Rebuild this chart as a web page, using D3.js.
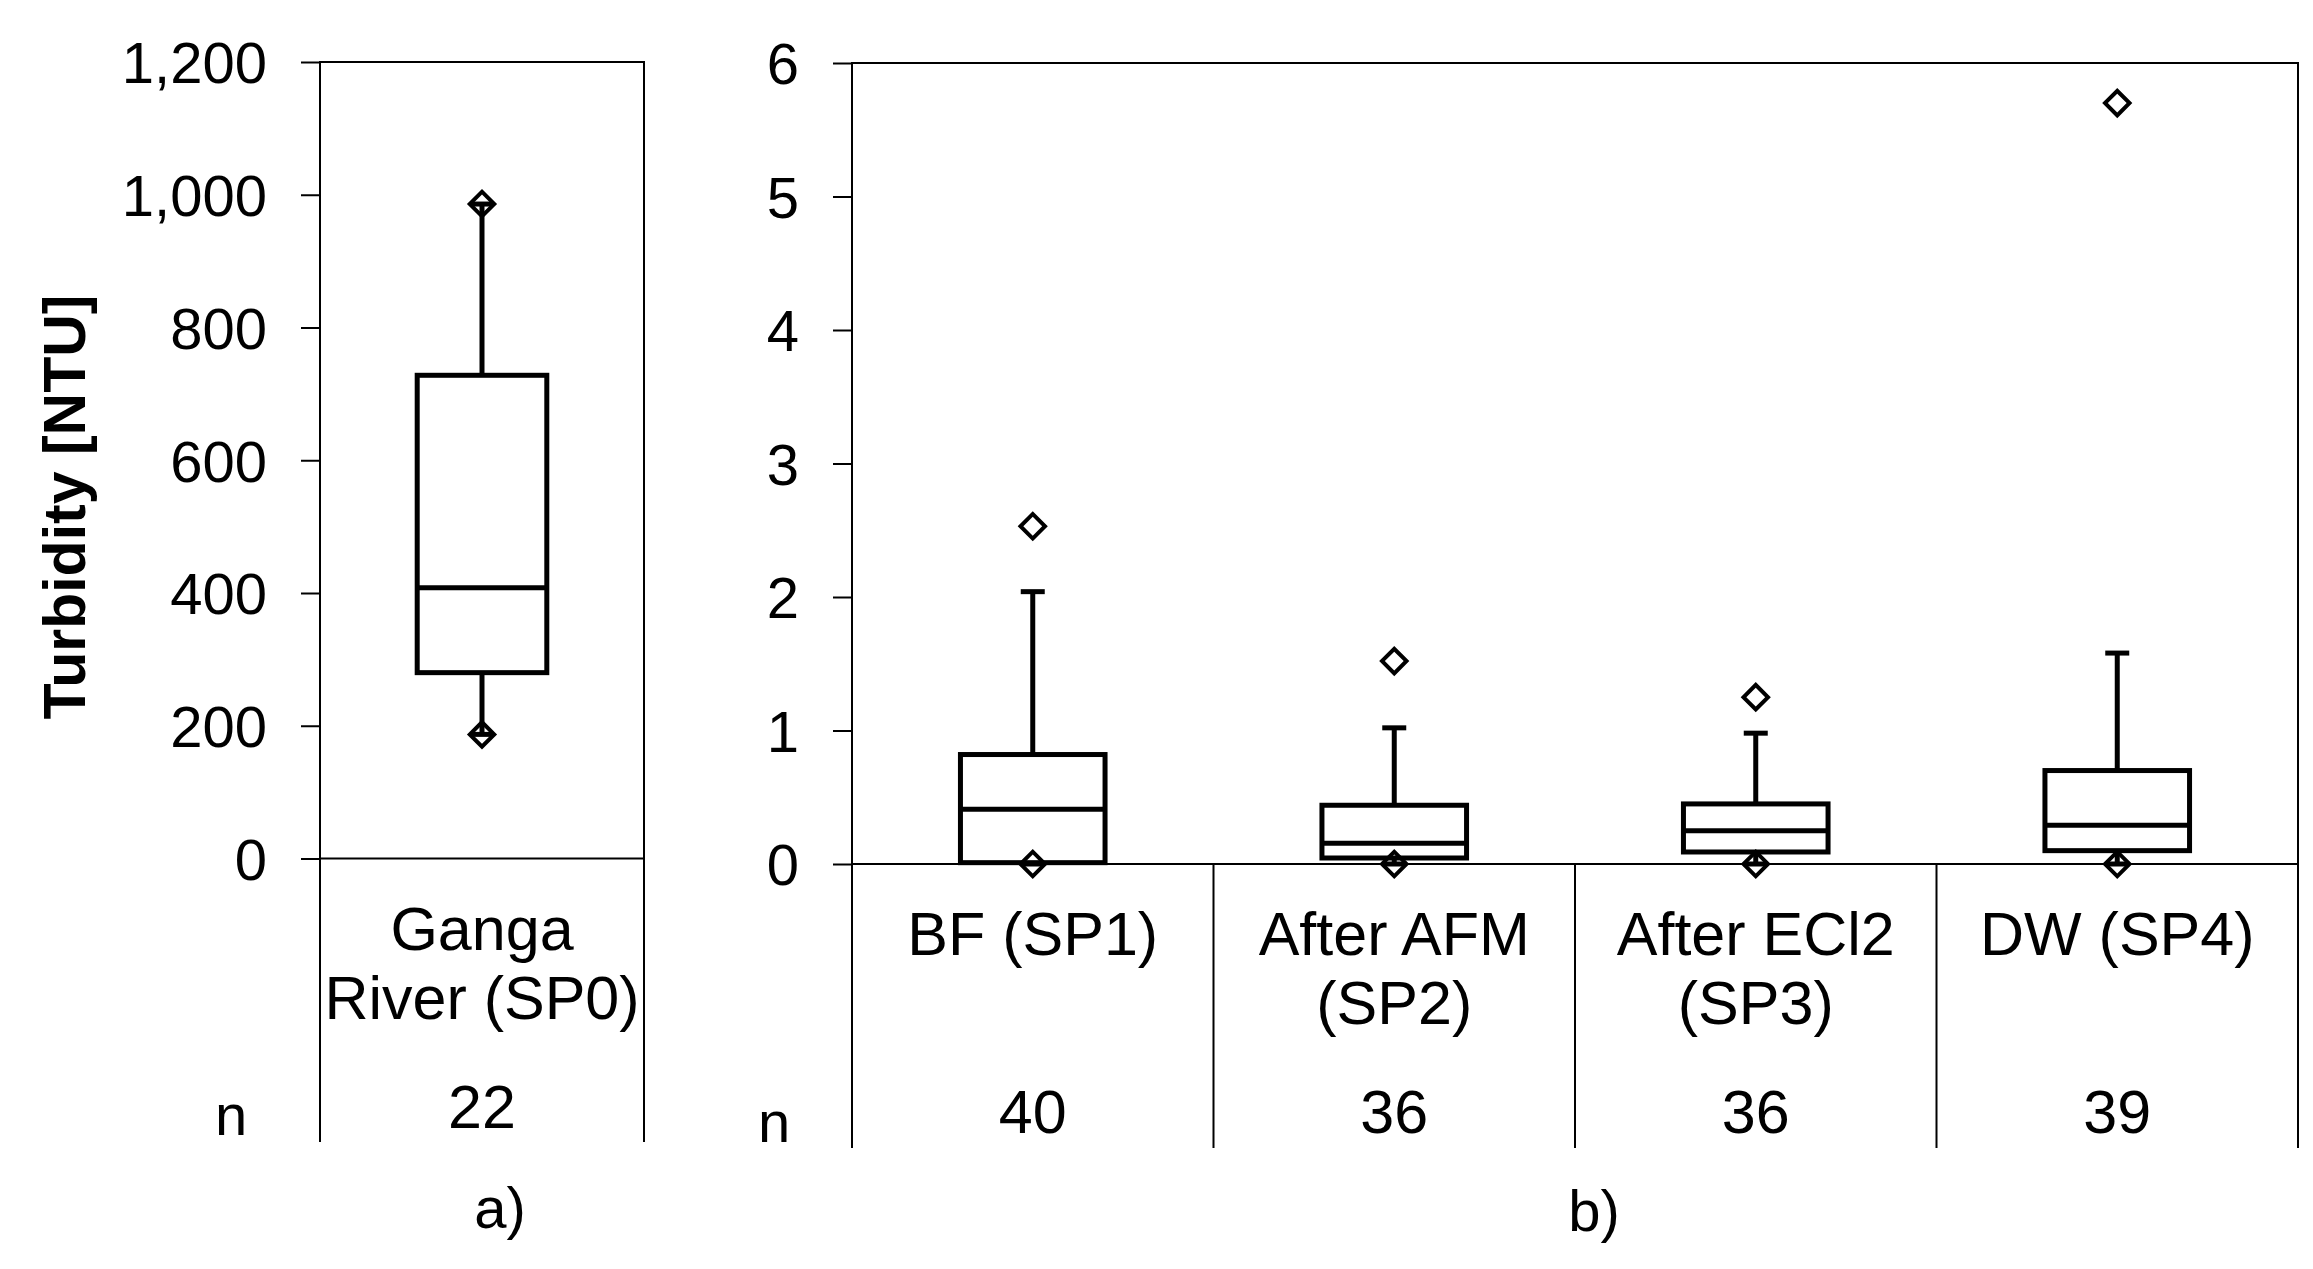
<!DOCTYPE html>
<html>
<head>
<meta charset="utf-8">
<script src="https://cdn.jsdelivr.net/npm/d3@7"></script>
<style>
    body { margin: 0; background: #fff; }
    text { font-family: "Liberation Sans", Arial, sans-serif; fill: #000; }
</style>
</head>
<body>
<div id="chart"></div>
<script>
// Data - panel a) river
const riverSites = ['Ganga River (SP0)'];
const riverLabels = [['Ganga', 'River (SP0)']];
const riverN = [22];
const riverMin = [187];
const riverWhiskerLow = [187];
const riverQ1 = [280];
const riverMedian = [408];
const riverQ3 = [728];
const riverWhiskerHigh = [986];
const riverMax = [986];
const riverTicks = [0, 200, 400, 600, 800, 1000, 1200];

// Data - panel b) treatment plant
const plantSites = ['BF (SP1)', 'After AFM (SP2)', 'After ECl2 (SP3)', 'DW (SP4)'];
const plantLabels = [['BF (SP1)'], ['After AFM', '(SP2)'], ['After ECl2', '(SP3)'], ['DW (SP4)']];
const plantN = [40, 36, 36, 39];
const plantMin = [0, 0, 0, 0];
const plantWhiskerLow = [0, 0, 0, 0];
const plantQ1 = [0.01, 0.045, 0.09, 0.10];
const plantMedian = [0.41, 0.155, 0.25, 0.29];
const plantQ3 = [0.82, 0.44, 0.45, 0.70];
const plantWhiskerHigh = [2.04, 1.02, 0.98, 1.58];
const plantMax = [2.53, 1.52, 1.25, 5.70];
const plantTicks = [0, 1, 2, 3, 4, 5, 6];

// Dimensions
const dimensions = {
    width: 2313,
    height: 1269,
    fontSize: 58,
    labelSize: 61,
    tickSize: 19,
    tickPadding: 34,
    lineWidth: 2,
    boxWidth: 5,
    capWidth: 24,
    diamondSize: 300,
};

const svg = d3.select('#chart')
    .append('svg')
    .attr('width', dimensions.width)
    .attr('height', dimensions.height);

// Y axis title
svg.append('text')
    .attr('transform', 'translate(85, 507) rotate(-90)')
    .attr('text-anchor', 'middle')
    .style('font-size', '59px')
    .style('font-weight', 'bold')
    .text('Turbidity [NTU]');

function drawPanel(p) {
    const rows = p.sites.map((s, i) => ({
        site: s,
        label: p.labels[i],
        n: p.n[i],
        min: p.min[i],
        lo: p.whiskerLow[i],
        q1: p.q1[i],
        med: p.median[i],
        q3: p.q3[i],
        hi: p.whiskerHigh[i],
        max: p.max[i],
    }));

    const xScale = d3.scaleBand()
        .domain(p.sites)
        .range([p.left, p.right])
        .padding(0);

    const yScale = d3.scaleLinear()
        .domain(d3.extent(p.ticks))
        .range([p.zero, p.top]);

    const g = svg.append('g');
    const bw = xScale.bandwidth();
    const cx = d => xScale(d.site) + bw / 2;

    // Axis
    const yAxis = d3.axisLeft(yScale)
        .tickValues(p.ticks)
        .tickFormat(p.format)
        .tickSize(dimensions.tickSize)
        .tickPadding(dimensions.tickPadding)
        .tickSizeOuter(0);

    const axisGroup = g.append('g')
        .attr('transform', `translate(${p.left}, 0)`)
        .call(yAxis);
    axisGroup.select('.domain').remove();
    axisGroup.selectAll('.tick line')
        .attr('stroke', '#000')
        .attr('stroke-width', dimensions.lineWidth);
    axisGroup.selectAll('.tick text')
        .attr('dy', '0.36em')
        .style('font-size', dimensions.fontSize + 'px')
        .style('font-family', '"Liberation Sans", Arial, sans-serif');

    // Frame / table lines
    const frame = g.append('g')
        .attr('stroke', '#000')
        .attr('stroke-width', dimensions.lineWidth);

    frame.append('line')
        .attr('x1', p.left).attr('x2', p.right)
        .attr('y1', yScale(p.ticks[p.ticks.length - 1])).attr('y2', yScale(p.ticks[p.ticks.length - 1]));
    frame.append('line')
        .attr('x1', p.left).attr('x2', p.right)
        .attr('y1', yScale(0)).attr('y2', yScale(0));
    frame.append('line')
        .attr('x1', p.left).attr('x2', p.left)
        .attr('y1', p.top - 1).attr('y2', p.bottom);
    frame.selectAll('.divider')
        .data(rows)
        .join('line')
        .attr('class', 'divider')
        .attr('x1', d => xScale(d.site) + bw)
        .attr('x2', d => xScale(d.site) + bw)
        .attr('y1', (d, i) => i === rows.length - 1 ? p.top - 1 : yScale(0))
        .attr('y2', p.bottom);

    // Boxes
    const boxes = g.append('g')
        .attr('stroke', '#000')
        .attr('stroke-width', dimensions.boxWidth)
        .selectAll('g')
        .data(rows)
        .join('g');

    boxes.append('line')
        .attr('x1', cx).attr('x2', cx)
        .attr('y1', d => yScale(d.q3)).attr('y2', d => yScale(d.hi));
    boxes.append('line')
        .attr('x1', cx).attr('x2', cx)
        .attr('y1', d => yScale(d.q1)).attr('y2', d => yScale(d.lo));
    boxes.append('line')
        .attr('x1', d => cx(d) - dimensions.capWidth / 2)
        .attr('x2', d => cx(d) + dimensions.capWidth / 2)
        .attr('y1', d => yScale(d.hi)).attr('y2', d => yScale(d.hi));
    boxes.append('line')
        .attr('x1', d => cx(d) - dimensions.capWidth / 2)
        .attr('x2', d => cx(d) + dimensions.capWidth / 2)
        .attr('y1', d => yScale(d.lo)).attr('y2', d => yScale(d.lo));

    boxes.append('rect')
        .attr('x', d => cx(d) - bw * 0.2)
        .attr('width', bw * 0.4)
        .attr('y', d => yScale(d.q3))
        .attr('height', d => yScale(d.q1) - yScale(d.q3))
        .attr('fill', 'none');
    boxes.append('line')
        .attr('x1', d => cx(d) - bw * 0.2)
        .attr('x2', d => cx(d) + bw * 0.2)
        .attr('y1', d => yScale(d.med)).attr('y2', d => yScale(d.med));

    // Min / max diamonds
    const diamond = d3.symbol(d3.symbolSquare, dimensions.diamondSize);
    const marks = rows.flatMap(d => [{ x: cx(d), v: d.min }, { x: cx(d), v: d.max }]);
    g.append('g')
        .selectAll('path')
        .data(marks)
        .join('path')
        .attr('d', diamond)
        .attr('transform', d => `translate(${d.x}, ${yScale(d.v)}) rotate(45)`)
        .attr('fill', 'none')
        .attr('stroke', '#000')
        .attr('stroke-width', 4);

    // Category labels
    const labels = g.append('g')
        .selectAll('text')
        .data(rows)
        .join('text')
        .attr('text-anchor', 'middle')
        .style('font-size', dimensions.labelSize + 'px');
    labels.selectAll('tspan')
        .data(d => d.label.map(l => ({ l, x: cx(d) })))
        .join('tspan')
        .attr('x', d => d.x)
        .attr('y', (d, i) => yScale(0) + 91 + i * 69)
        .text(d => d.l);

    // Sample sizes
    g.append('g')
        .selectAll('text')
        .data(rows)
        .join('text')
        .attr('text-anchor', 'middle')
        .attr('x', cx)
        .attr('y', yScale(0) + 269)
        .style('font-size', dimensions.labelSize + 'px')
        .text(d => d.n);

    g.append('text')
        .attr('x', p.nX)
        .attr('y', p.nY)
        .style('font-size', dimensions.fontSize + 'px')
        .text('n');

    g.append('text')
        .attr('x', p.tagX)
        .attr('y', p.tagY)
        .attr('text-anchor', 'middle')
        .style('font-size', dimensions.fontSize + 'px')
        .text(p.tag);
}

drawPanel({
    sites: riverSites, labels: riverLabels, n: riverN,
    min: riverMin, whiskerLow: riverWhiskerLow, q1: riverQ1, median: riverMedian,
    q3: riverQ3, whiskerHigh: riverWhiskerHigh, max: riverMax,
    ticks: riverTicks, format: d3.format(','),
    left: 320, right: 644, top: 62, zero: 858.5, bottom: 1142,
    nX: 215, nY: 1135, tag: 'a)', tagX: 500, tagY: 1228,
});

drawPanel({
    sites: plantSites, labels: plantLabels, n: plantN,
    min: plantMin, whiskerLow: plantWhiskerLow, q1: plantQ1, median: plantMedian,
    q3: plantQ3, whiskerHigh: plantWhiskerHigh, max: plantMax,
    ticks: plantTicks, format: d3.format('d'),
    left: 852, right: 2298, top: 63, zero: 864, bottom: 1148,
    nX: 758, nY: 1142, tag: 'b)', tagX: 1594, tagY: 1231,
});
</script>
</body>
</html>
